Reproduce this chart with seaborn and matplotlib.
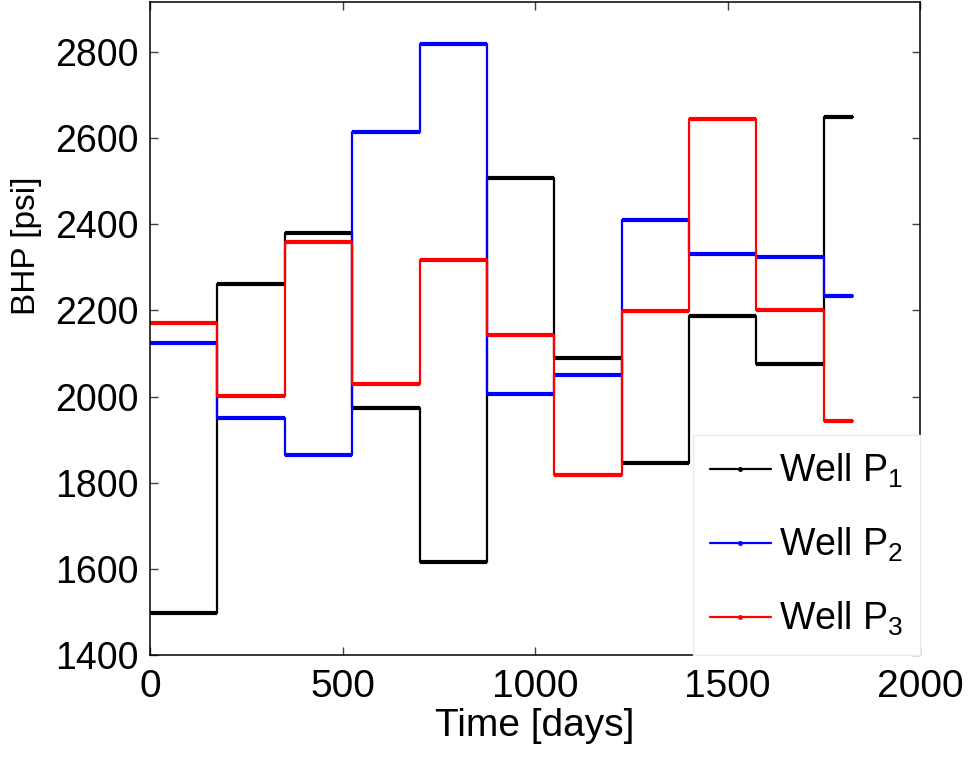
import matplotlib
matplotlib.use("Agg")
import pandas as pd
import matplotlib.pyplot as plt
from matplotlib.lines import Line2D
import seaborn as sns

# start of each control step [days] and end of schedule
t_steps = [0, 175, 350, 525, 700, 875, 1050, 1225, 1400, 1575, 1750]
t_end = 1825

# BHP per control step [psi]
bhp_p1 = [1498, 2262, 2379, 1974, 1615, 2508, 2089, 1845, 2186, 2075, 2649]
bhp_p2 = [2125, 1950, 1865, 2615, 2818, 2005, 2049, 2409, 2331, 2323, 2233]
bhp_p3 = [2170, 2002, 2359, 2029, 2317, 2142, 1817, 2199, 2645, 2201, 1943]

wells = ["Well P$_1$", "Well P$_2$", "Well P$_3$"]
colors = ["black", "blue", "red"]

x_ticks = [0, 500, 1000, 1500, 2000]
y_ticks = [1400, 1600, 1800, 2000, 2200, 2400, 2600, 2800]

# long table, last value repeated at the end time for the step line
rows = []
for name, vals in zip(wells, [bhp_p1, bhp_p2, bhp_p3]):
    for t, v in zip(t_steps + [t_end], vals + [vals[-1]]):
        rows.append({"time": t, "bhp": v, "well": name})
df = pd.DataFrame(rows)

sns.set_theme(style="white")
plt.rcParams["font.family"] = ["Liberation Sans", "DejaVu Sans"]
plt.rcParams["mathtext.fontset"] = "custom"
plt.rcParams["mathtext.rm"] = "Liberation Sans"
plt.rcParams["mathtext.it"] = "Liberation Sans:italic"
plt.rcParams["text.color"] = "black"
plt.rcParams["axes.labelcolor"] = "black"
plt.rcParams["xtick.color"] = "black"
plt.rcParams["ytick.color"] = "black"

fig = plt.figure(figsize=(9.8, 7.69), dpi=100)
ax = fig.add_axes([150 / 980, 1 - 655 / 769, 770 / 980, 653 / 769])

ends = t_steps[1:] + [t_end]
for name, vals, col in zip(wells, [bhp_p1, bhp_p2, bhp_p3], colors):
    d = df[df["well"] == name]
    # thin connectors
    sns.lineplot(data=d, x="time", y="bhp", color=col, lw=1.6,
                 drawstyle="steps-post", estimator=None, sort=False,
                 legend=False, ax=ax)
    # thick control levels
    ax.hlines(vals, t_steps, ends, colors=col, lw=3.0)

ax.set_xlim(0, 2000)
ax.set_ylim(1400, 2916)
ax.set_xticks(x_ticks)
ax.set_yticks(y_ticks)

for s in ax.spines.values():
    s.set_color("black")
    s.set_linewidth(1.1)

ax.tick_params(direction="in", top=True, right=True, length=6, width=1,
               color="0.25", bottom=True, left=True)
ax.tick_params(axis="x", labelsize=28, pad=10)
ax.tick_params(axis="y", labelsize=27, pad=8)

ax.set_xlabel("Time [days]", fontsize=28, labelpad=2)
ax.set_ylabel("BHP [psi]", fontsize=24)
ax.yaxis.set_label_coords(-0.14, 0.627)

handles = [Line2D([], [], color=c, lw=1.6, marker=".", markersize=5) for c in colors]
leg = ax.legend(handles, wells, loc="lower right", bbox_to_anchor=(1, 0),
                borderaxespad=0, fontsize=27, frameon=True, fancybox=False,
                framealpha=1, edgecolor="0.92", handlelength=1.65,
                handletextpad=0.2, labelspacing=0.95, borderpad=0.45)
leg.get_frame().set_linewidth(1)

fig.savefig("out.png", dpi=100)
